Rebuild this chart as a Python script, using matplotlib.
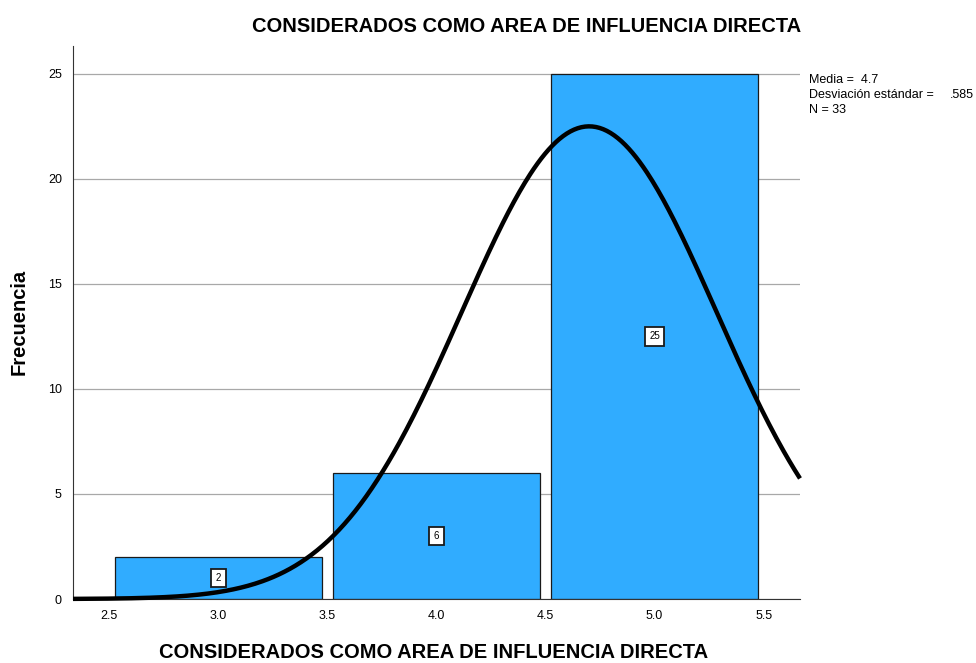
import numpy as np
import matplotlib
matplotlib.use("Agg")
import matplotlib.pyplot as plt

plt.rcParams['font.family'] = ['Liberation Sans', 'DejaVu Sans']

title = "CONSIDERADOS COMO AREA DE INFLUENCIA DIRECTA"
categories = [3.0, 4.0, 5.0]
counts = [2, 6, 25]
mean = 4.7
sd = 0.585
n = 33
xticks = [2.5, 3.0, 3.5, 4.0, 4.5, 5.0, 5.5]
yticks = [0, 5, 10, 15, 20, 25]

fig = plt.figure(figsize=(9.76, 6.63), dpi=100)
ax = fig.add_axes([73/976, 1-599/663, (800-73)/976, (599-46)/663])

ax.set_xlim(2.333, 5.667)
ax.set_ylim(0, 26.33)
ax.set_yticks(yticks)
ax.set_xticks(xticks)
ax.set_xticklabels([f"{t:.1f}" for t in xticks])
ax.tick_params(length=0, labelsize=9, pad=8)
ax.yaxis.grid(True, color='#a8a8a8', linewidth=0.9)
ax.set_axisbelow(True)
for s in ['top', 'right']:
    ax.spines[s].set_visible(False)
ax.spines['left'].set_color('#333333')
ax.spines['bottom'].set_color('#333333')

ax.bar(categories, counts, width=0.947, color='#30acff', edgecolor='#1a1a1a', linewidth=0.9, zorder=2)
for c, v in zip(categories, counts):
    ax.text(c, v/2, str(v), ha='center', va='center', fontsize=7, zorder=4,
            bbox=dict(boxstyle='square,pad=0.45', fc='white', ec='#1a1a1a', lw=1.3))

xs = np.linspace(2.333, 5.667, 400)
ys = n * 1.0 * np.exp(-0.5*((xs-mean)/sd)**2) / (sd*np.sqrt(2*np.pi))
ax.plot(xs, ys, color='black', linewidth=3.2, zorder=3, clip_on=False, solid_capstyle='butt')

fig.text(527/976, 1-26/663, title, ha='center', va='center', fontsize=14.5, fontweight='bold')
fig.text(434/976, 1-653/663, title, ha='center', va='center', fontsize=14.5, fontweight='bold')
fig.text(19/976, 1-322/663, "Frecuencia", ha='center', va='center', rotation=90, fontsize=14.5, fontweight='bold')

fig.text(809/976, 1-80/663, f"Media =  {mean}", ha='left', va='center', fontsize=9)
fig.text(809/976, 1-95/663, "Desviación estándar =", ha='left', va='center', fontsize=9)
fig.text(974/976, 1-95/663, f"{sd:.3f}"[1:], ha='right', va='center', fontsize=9)
fig.text(809/976, 1-110/663, f"N = {n}", ha='left', va='center', fontsize=9)

fig.savefig("out.png", dpi=100)
